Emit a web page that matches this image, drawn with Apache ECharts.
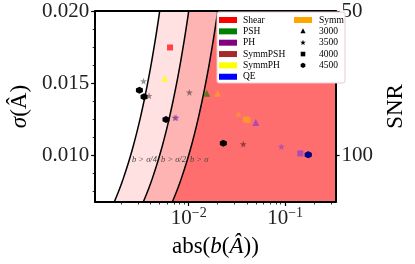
<!DOCTYPE html>
<html>
<head>
<meta charset="utf-8">
<script src="https://cdn.jsdelivr.net/npm/echarts@6/dist/echarts.min.js"></script>
<style>
html,body{margin:0;padding:0;background:#fff;}
#chart{width:415px;height:264px;}
</style>
</head>
<body>
<div id="chart"></div>
<script>
// ---------------- data ----------------
const methods = ['Shear', 'PSH', 'PH', 'SymmPSH', 'SymmPH', 'QE', 'Symm'];
const shapeNames = ['3000', '3500', '4000', '4500'];

const pointB     = [0.0064, 0.0034, 0.00563, 0.00308, 0.00344, 0.00388, 0.01016, 0.00581, 0.0072, 0.00743, 0.02286, 0.01538, 0.0200, 0.0330, 0.0391, 0.0410, 0.0497, 0.0368, 0.0914, 0.1438, 0.1738, 0.1738];
const pointSigma = [0.01747, 0.01513, 0.01533, 0.01451, 0.01405, 0.01412, 0.01435, 0.01248, 0.0126, 0.0126, 0.01082, 0.01429, 0.01429, 0.01283, 0.01248, 0.01243, 0.01227, 0.01077, 0.01059, 0.01012, 0.01003, 0.01003];
const pointMethod= ['Shear', 'Other', 'SymmPH', 'Other', 'Other', 'Other', 'Other', 'Other', 'Other', 'PH', 'Other', 'PSH', 'Symm', 'Symm', 'Symm', 'Symm', 'PH', 'Other', 'PH', 'PH', 'Other', 'QE'];
const pointShape = ['4000', '3500', '3000', '4500', '4500', '3500', '3500', '4500', '3500', '3500', '4500', '3000', '3000', '3500', '4000', '4000', '3000', '3500', '3500', '4000', '4500', '4500'];

const xMajorTicks = [0.01, 0.1];
const xMinorTicks = [0.002, 0.003, 0.004, 0.005, 0.006, 0.007, 0.008, 0.009, 0.02, 0.03, 0.04, 0.05, 0.06, 0.07, 0.08, 0.09, 0.2, 0.3];
const yMajorTicks = [0.010, 0.015, 0.020];
const yMinorTicks = [0.0075, 0.00875, 0.01125, 0.0125, 0.01375, 0.01625, 0.0175, 0.01875];
const snrTicks = [50, 100];

const regionDivisors = [4, 2, 1];
const regionLabels = ['b > σ/4', 'b > σ/2', 'b > σ'];

// ---------------- styles ----------------
const X_MIN = 0.00107, X_MAX = 0.334, Y_MIN = 0.00675, Y_MAX = 0.020;
const FONT = 'Liberation Serif';
const methodColors = {Shear:'#ff0000', PSH:'#008000', PH:'#800080', SymmPSH:'#a52a2a', SymmPH:'#ffff00', QE:'#0000ff', Symm:'#ffa500', Other:'#000000'};
const markerColors = {Shear:'#ff0000', PSH:'#1a7a00', PH:'#8a3ccf', SymmPSH:'#a52a2a', SymmPH:'#ffff00', QE:'#0000ff', Symm:'#ffa020', Other:'#000000'};
const regionColors = ['#ffe1e1', '#ffb4b4', '#ff6e6e'];
const STAR = 'path://M0,-10 L2.35,-3.24 L9.51,-3.09 L3.8,1.24 L5.88,8.09 L0,4 L-5.88,8.09 L-3.8,1.24 L-9.51,-3.09 L-2.35,-3.24 Z';
const HEX = 'path://M0,-10 L8.66,-5 L8.66,5 L0,10 L-8.66,5 L-8.66,-5 Z';
const shapeSymbols = {'3000':'triangle', '3500':STAR, '4000':'rect', '4500':HEX};
const shapeSizes = {'3000':7, '3500':7, '4000':6, '4500':7};
function pointOpacity(method, shape){
  if (method === 'Other') return shape === '3500' ? 0.42 : 1;
  if (method === 'QE') return 0.55;
  return shape === '3500' ? 0.6 : 0.7;
}

const chart = echarts.init(document.getElementById('chart'), null, {renderer:'canvas'});

const scatterData = pointB.map((b, i) => ({
  value: [b, pointSigma[i]],
  symbol: shapeSymbols[pointShape[i]],
  symbolSize: shapeSizes[pointShape[i]],
  itemStyle: {color: markerColors[pointMethod[i]], opacity: pointOpacity(pointMethod[i], pointShape[i])}
}));

function regionSeries(d, idx){
  return {
    type: 'custom',
    xAxisIndex: 0, yAxisIndex: 0,
    z: 1 + idx,
    silent: true,
    clip: true,
    data: [[0]],
    renderItem: function(params, api){
      const n = 40;
      const curve = [];
      for (let k = 0; k <= n; k++){
        const s = Y_MIN + (Y_MAX - Y_MIN) * k / n;
        curve.push(api.coord([s / d, s]));
      }
      const poly = curve.slice();
      poly.push(api.coord([X_MAX, Y_MAX]));
      poly.push(api.coord([X_MAX, Y_MIN]));
      const labS = 0.0097;
      const lp = api.coord([labS / d, labS]);
      return {
        type: 'group',
        children: [
          {type:'polygon', shape:{points: poly}, style:{fill: regionColors[idx], stroke: null}},
          {type:'polyline', shape:{points: curve}, style:{stroke:'#000', lineWidth:1.5, fill:null}},
          {type:'text', style:{text: regionLabels[idx], x: lp[0] + 2.5, y: lp[1], fill:'#444', fontSize: 8.5, fontFamily: FONT, fontStyle:'italic', verticalAlign:'middle', align:'left'}}
        ]
      };
    }
  };
}

// legend graphic
const LX = 217, LY = 12, ROW = 11.35, LZ = 100, LFS = 9.5;
const legendChildren = [
  {type:'rect', z:LZ, shape:{x:LX, y:LY, width:128, height:71, r:2}, style:{fill:'#ffffff', stroke:'#f0c8c8', lineWidth:1}}
];
methods.slice(0, 6).forEach((m, i) => {
  const cy = LY + 8 + i * ROW;
  legendChildren.push({type:'rect', z:LZ + 1, shape:{x:LX + 2, y:cy - 3, width:18, height:6}, style:{fill: methodColors[m]}});
  legendChildren.push({type:'text', z:LZ + 1, style:{text:m, x:LX + 26, y:cy, fontSize:LFS, fontFamily:FONT, fill:'#000', verticalAlign:'middle'}});
});
{
  const cy = LY + 8;
  legendChildren.push({type:'rect', z:LZ + 1, shape:{x:LX + 77, y:cy - 3, width:18, height:6}, style:{fill: methodColors['Symm']}});
  legendChildren.push({type:'text', z:LZ + 1, style:{text:'Symm', x:LX + 102, y:cy, fontSize:LFS, fontFamily:FONT, fill:'#000', verticalAlign:'middle'}});
}
shapeNames.forEach((s, i) => {
  const cy = LY + 8 + (i + 1) * ROW;
  legendChildren.push({type:'text', z:LZ + 1, style:{text:s, x:LX + 102, y:cy, fontSize:LFS, fontFamily:FONT, fill:'#000', verticalAlign:'middle'}});
});

function markerGraphic(shape, cx, cy){
  const r = 2.6;
  let g;
  if (shape === '3000') g = {type:'polygon', shape:{points:[[cx, cy - r - 0.4],[cx + r, cy + r - 0.6],[cx - r, cy + r - 0.6]]}, style:{fill:'#000'}};
  else if (shape === '4000') g = {type:'rect', shape:{x:cx - 2.3, y:cy - 2.3, width:4.6, height:4.6}, style:{fill:'#000'}};
  else if (shape === '4500') {
    const pts = [];
    for (let k = 0; k < 6; k++){ const a = -Math.PI/2 + k*Math.PI/3; pts.push([cx + 2.7*Math.cos(a), cy + 2.7*Math.sin(a)]); }
    g = {type:'polygon', shape:{points:pts}, style:{fill:'#000'}};
  } else {
    const pts = [];
    for (let k = 0; k < 10; k++){ const a = -Math.PI/2 + k*Math.PI/5; const rr = k % 2 ? 1.2 : 2.9; pts.push([cx + rr*Math.cos(a), cy + rr*Math.sin(a)]); }
    g = {type:'polygon', shape:{points:pts}, style:{fill:'#000'}};
  }
  g.z = LZ + 1;
  return g;
}
shapeNames.forEach((s, i) => {
  legendChildren.push(markerGraphic(s, LX + 86, LY + 8 + (i + 1) * ROW));
});

const option = {
  animation: false,
  backgroundColor: '#fff',
  textStyle: {fontFamily: FONT},
  grid: {left: 90, right: 68, top: 11, bottom: 62, containLabel: false},
  xAxis: [
    {
      type:'log', logBase:10, min:X_MIN, max:X_MAX, position:'bottom', z:10,
      axisLine:{show:true, onZero:false, lineStyle:{color:'#000', width:2}},
      axisTick:{show:true, customValues:xMajorTicks, length:4, inside:false, lineStyle:{color:'#000', width:1.2}},
      axisLabel:{customValues:xMajorTicks, margin:4, color:'#222', fontFamily:FONT,
        formatter: v => '{b|10}{s|\u2212' + Math.round(-Math.log10(v)) + '}',
        rich:{b:{fontSize:21, fontFamily:FONT, color:'#222'}, s:{fontSize:14, fontFamily:FONT, color:'#222', verticalAlign:'top', padding:[0,0,10,0]}}},
      splitLine:{show:false},
      name:'{n|abs(}{i|b}{n|(}{i|Â}{n|))}', nameLocation:'middle', nameGap:33,
      nameTextStyle:{rich:{n:{fontSize:23, fontFamily:FONT, color:'#000'}, i:{fontSize:23, fontFamily:FONT, fontStyle:'italic', color:'#000'}}}
    },
    {
      type:'log', logBase:10, min:X_MIN, max:X_MAX, position:'bottom', z:10,
      axisLine:{show:false},
      axisTick:{show:true, customValues:xMinorTicks, length:2.5, inside:false, lineStyle:{color:'#000', width:0.8}},
      axisLabel:{show:false}, splitLine:{show:false}
    },
    {
      type:'log', logBase:10, min:X_MIN, max:X_MAX, position:'top', z:10,
      axisLine:{show:true, onZero:false, lineStyle:{color:'#000', width:2}},
      axisTick:{show:false}, axisLabel:{show:false}, splitLine:{show:false}
    }
  ],
  yAxis: [
    {
      type:'value', min:Y_MIN, max:Y_MAX, position:'left', z:10,
      axisLine:{show:true, onZero:false, lineStyle:{color:'#000', width:2}},
      axisTick:{show:true, customValues:yMajorTicks, length:4, inside:false, lineStyle:{color:'#000', width:1.2}},
      axisLabel:{customValues:yMajorTicks, margin:6, fontSize:21, fontFamily:FONT, color:'#222', formatter: v => v.toFixed(3)},
      splitLine:{show:false},
      name:'{i|σ}{n|(Â)}', nameLocation:'middle', nameRotate:90, nameGap:57,
      nameTextStyle:{rich:{n:{fontSize:23, fontFamily:FONT, color:'#000'}, i:{fontSize:23, fontFamily:FONT, fontStyle:'italic', color:'#000'}}}
    },
    {
      type:'value', min:Y_MIN, max:Y_MAX, position:'left', z:10,
      axisLine:{show:false},
      axisTick:{show:true, customValues:yMinorTicks, length:2.5, inside:false, lineStyle:{color:'#000', width:0.8}},
      axisLabel:{show:false}, splitLine:{show:false}
    },
    {
      type:'value', min:Y_MIN, max:Y_MAX, position:'right', z:10,
      axisLine:{show:true, onZero:false, lineStyle:{color:'#000', width:2}},
      axisTick:{show:true, customValues:snrTicks.map(v => 1 / v), length:4, inside:false, lineStyle:{color:'#000', width:1.2}},
      axisLabel:{customValues:snrTicks.map(v => 1 / v), margin:6, fontSize:21, fontFamily:FONT, color:'#222', formatter: v => String(Math.round(1 / v))},
      splitLine:{show:false},
      name:'SNR', nameLocation:'middle', nameRotate:90, nameGap:42,
      nameTextStyle:{fontSize:23, fontFamily:FONT, color:'#000'}
    }
  ],
  series: [
    regionSeries(regionDivisors[0], 0),
    regionSeries(regionDivisors[1], 1),
    regionSeries(regionDivisors[2], 2),
    {
      type:'scatter', xAxisIndex:0, yAxisIndex:0, z:5,
      data: scatterData,
      itemStyle:{borderWidth:0}
    }
  ],
  graphic: {elements: legendChildren}
};
chart.setOption(option);
</script>
</body>
</html>
